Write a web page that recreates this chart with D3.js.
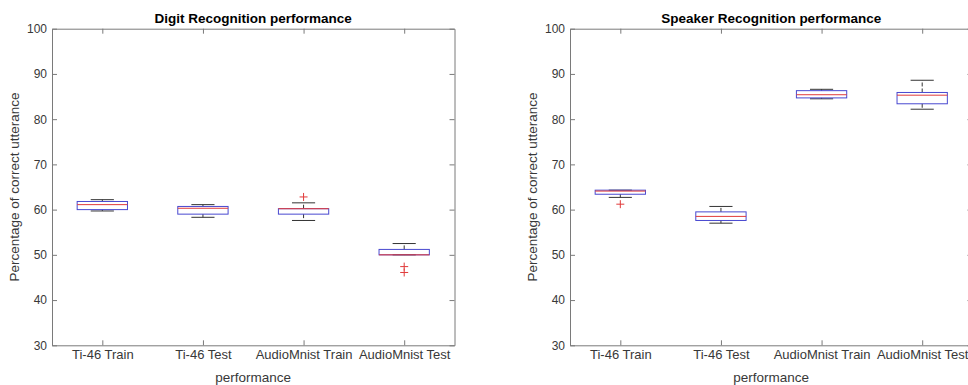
<!DOCTYPE html>
<html>
<head>
<meta charset="utf-8">
<script src="https://cdn.jsdelivr.net/npm/d3@7"></script>
<style>
  body { margin: 0; background: #fff; }
  text { font-family: "Liberation Sans", Arial, sans-serif; }
</style>
</head>
<body>
<svg id="chart" width="968" height="385"></svg>
<script>
// categories shared by both panels
const categories = ["Ti-46 Train", "Ti-46 Test", "AudioMnist Train", "AudioMnist Test"];
const yTicks = [30, 40, 50, 60, 70, 80, 90, 100];

// Digit recognition box stats
const digitLow    = [59.7, 58.3, 57.6, 50.0];
const digitQ1     = [60.0, 59.0, 59.0, 50.0];
const digitMedian = [61.1, 60.3, 60.2, 50.0];
const digitQ3     = [61.8, 60.7, 60.2, 51.2];
const digitHigh   = [62.2, 61.1, 61.5, 52.5];
const digitOutliers = [[], [], [62.8], [47.4, 46.1]];

// Speaker recognition box stats
const speakerLow    = [62.7, 57.0, 84.5, 82.2];
const speakerQ1     = [63.4, 57.6, 84.7, 83.4];
const speakerMedian = [64.1, 58.5, 85.4, 85.3];
const speakerQ3     = [64.3, 59.5, 86.3, 85.9];
const speakerHigh   = [64.3, 60.7, 86.6, 88.6];
const speakerOutliers = [[61.2], [], [], []];

const svg = d3.select("#chart");

const plotTop = 28.7, plotBottom = 345.3, plotW = 402.5;
const axisColor = "#7a7a7a";
const textColor = "#383838";
const boxColor = "#4848d0";
const medColor = "#e03a3a";

function drawPanel(x0, title, low, q1, med, q3, high, outliers) {
  const g = svg.append("g").attr("transform", `translate(${x0},0)`);

  const x = d3.scalePoint().domain(categories).range([0, plotW]).padding(0.5);
  const y = d3.scaleLinear().domain([30, 100]).range([plotBottom, plotTop]);
  const step = x.step();
  const boxW = step * 0.5;
  const capW = step * 0.23;

  // axes, ticks pointing inward like matlab
  const left = g.append("g").call(d3.axisLeft(y).tickValues(yTicks).tickSizeInner(-5).tickSizeOuter(0).tickPadding(5));
  const right = g.append("g").attr("transform", `translate(${plotW},0)`)
    .call(d3.axisRight(y).tickValues(yTicks).tickSizeInner(-5).tickSizeOuter(0).tickFormat(""));
  const bot = g.append("g").attr("transform", `translate(0,${plotBottom})`)
    .call(d3.axisBottom(x).tickSizeInner(-5).tickSizeOuter(0).tickPadding(4));
  const topAx = g.append("g").attr("transform", `translate(0,${plotTop})`)
    .call(d3.axisTop(x).tickSizeInner(-5).tickSizeOuter(0).tickFormat(""));

  [left, right, bot, topAx].forEach(a => {
    a.selectAll("path.domain").attr("stroke", axisColor);
    a.selectAll(".tick line").attr("stroke", axisColor);
    a.selectAll(".tick text").attr("fill", textColor)
      .style("font-family", '"Liberation Sans", Arial, sans-serif');
  });
  left.selectAll(".tick text").style("font-size", "12px");
  bot.selectAll(".tick text").style("font-size", "13px");

  // boxes
  categories.forEach((c, i) => {
    const cx = x(c);
    // whiskers (dashed)
    g.append("line").attr("x1", cx).attr("x2", cx).attr("y1", y(q3[i])).attr("y2", y(high[i]))
      .attr("stroke", "#333").attr("stroke-dasharray", "4,2");
    g.append("line").attr("x1", cx).attr("x2", cx).attr("y1", y(q1[i])).attr("y2", y(low[i]))
      .attr("stroke", "#333").attr("stroke-dasharray", "4,2");
    // caps
    [low[i], high[i]].forEach(v => {
      g.append("line").attr("x1", cx - capW / 2).attr("x2", cx + capW / 2)
        .attr("y1", y(v)).attr("y2", y(v)).attr("stroke", "#333");
    });
    // box
    g.append("rect").attr("x", cx - boxW / 2).attr("width", boxW)
      .attr("y", y(q3[i])).attr("height", Math.max(y(q1[i]) - y(q3[i]), 0.5))
      .attr("fill", "none").attr("stroke", boxColor);
    // median
    g.append("line").attr("x1", cx - boxW / 2).attr("x2", cx + boxW / 2)
      .attr("y1", y(med[i])).attr("y2", y(med[i])).attr("stroke", medColor);
    // outliers as +
    outliers[i].forEach(v => {
      g.append("path").attr("d", `M${cx - 4},${y(v)}h8M${cx},${y(v) - 4}v8`)
        .attr("stroke", medColor).attr("fill", "none");
    });
  });

  // labels
  g.append("text").attr("x", plotW / 2).attr("y", 23).attr("text-anchor", "middle")
    .style("font-size", "13.5px").style("font-weight", "bold").attr("fill", "#000").text(title);
  g.append("text").attr("x", plotW / 2).attr("y", 382).attr("text-anchor", "middle")
    .style("font-size", "13.5px").attr("fill", textColor).text("performance");
  g.append("text").attr("transform", `translate(-33,${(plotTop + plotBottom) / 2}) rotate(-90)`)
    .attr("text-anchor", "middle").style("font-size", "13.5px").attr("fill", textColor)
    .text("Percentage of correct utterance");
}

drawPanel(52, "Digit Recognition performance", digitLow, digitQ1, digitMedian, digitQ3, digitHigh, digitOutliers);
drawPanel(570, "Speaker Recognition performance", speakerLow, speakerQ1, speakerMedian, speakerQ3, speakerHigh, speakerOutliers);
</script>
</body>
</html>
